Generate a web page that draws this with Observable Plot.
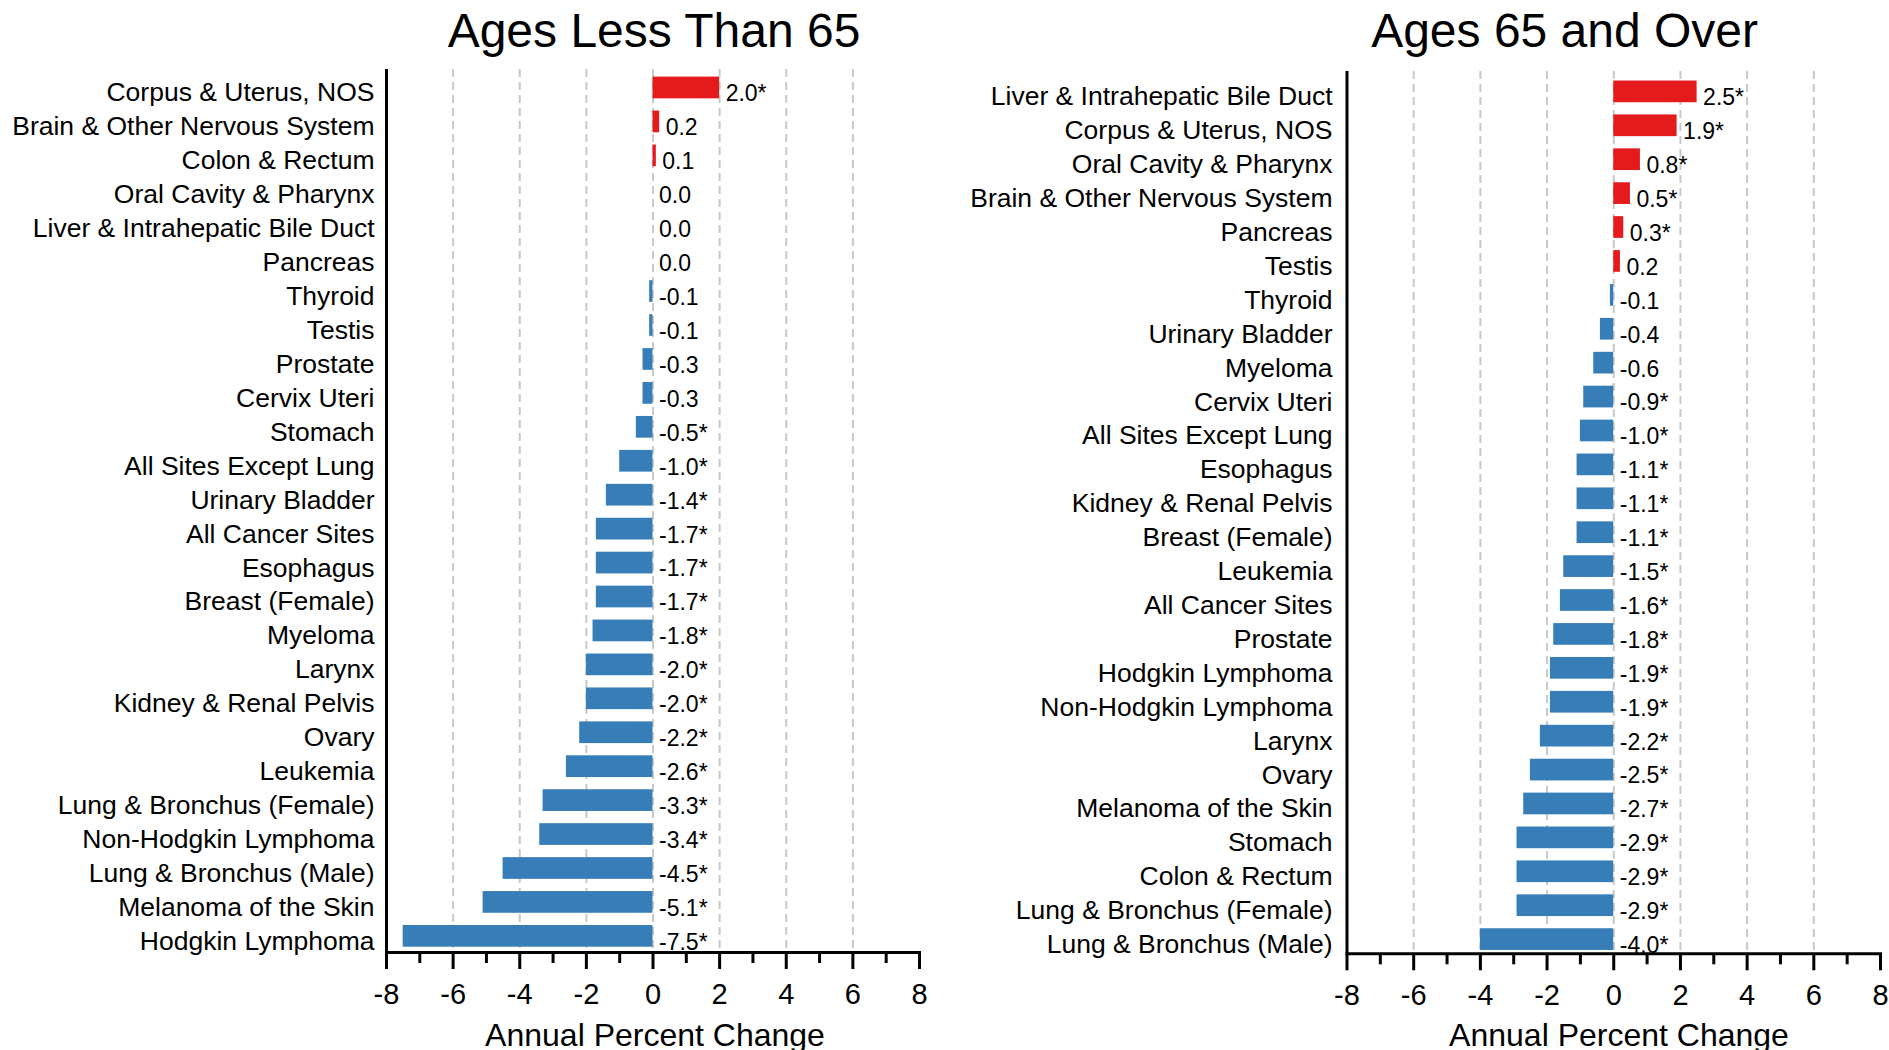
<!DOCTYPE html>
<html>
<head>
<meta charset="utf-8">
<script src="https://cdn.jsdelivr.net/npm/d3@7"></script>
<script src="https://cdn.jsdelivr.net/npm/@observablehq/plot@0.6"></script>
<style>
  html, body { margin: 0; padding: 0; background: #fff; overflow: hidden; }
  body { font-family: "Liberation Sans", Arial, Helvetica, sans-serif; color: #000; }
  #wrap { position: relative; width: 1889px; height: 1050px; }
  .panel { position: absolute; top: 0; }
  .panel svg { overflow: visible; }
  .txt { position: absolute; white-space: nowrap; line-height: 1; transform: translateX(-50%); }
  .title { font-size: 48px; top: 6.7px; }
  .axtitle { font-size: 32px; top: 1019px; }
</style>
</head>
<body>
<div id="wrap"></div>
<script>
// ---- Data: Ages Less Than 65 ----
const sitesUnder65 = [
  "Corpus & Uterus, NOS", "Brain & Other Nervous System", "Colon & Rectum",
  "Oral Cavity & Pharynx", "Liver & Intrahepatic Bile Duct", "Pancreas",
  "Thyroid", "Testis", "Prostate", "Cervix Uteri", "Stomach",
  "All Sites Except Lung", "Urinary Bladder", "All Cancer Sites", "Esophagus",
  "Breast (Female)", "Myeloma", "Larynx", "Kidney & Renal Pelvis", "Ovary",
  "Leukemia", "Lung & Bronchus (Female)", "Non-Hodgkin Lymphoma",
  "Lung & Bronchus (Male)", "Melanoma of the Skin", "Hodgkin Lymphoma"
];
const apcUnder65 = [2.0, 0.2, 0.1, 0.0, 0.0, 0.0, -0.1, -0.1, -0.3, -0.3, -0.5,
  -1.0, -1.4, -1.7, -1.7, -1.7, -1.8, -2.0, -2.0, -2.2, -2.6, -3.3, -3.4, -4.5, -5.1, -7.5];
const sigUnder65 = [true, false, false, false, false, false, false, false, false, false, true,
  true, true, true, true, true, true, true, true, true, true, true, true, true, true, true];

// ---- Data: Ages 65 and Over ----
const sites65Over = [
  "Liver & Intrahepatic Bile Duct", "Corpus & Uterus, NOS", "Oral Cavity & Pharynx",
  "Brain & Other Nervous System", "Pancreas", "Testis", "Thyroid", "Urinary Bladder",
  "Myeloma", "Cervix Uteri", "All Sites Except Lung", "Esophagus",
  "Kidney & Renal Pelvis", "Breast (Female)", "Leukemia", "All Cancer Sites",
  "Prostate", "Hodgkin Lymphoma", "Non-Hodgkin Lymphoma", "Larynx", "Ovary",
  "Melanoma of the Skin", "Stomach", "Colon & Rectum", "Lung & Bronchus (Female)",
  "Lung & Bronchus (Male)"
];
const apc65Over = [2.5, 1.9, 0.8, 0.5, 0.3, 0.2, -0.1, -0.4, -0.6, -0.9, -1.0, -1.1,
  -1.1, -1.1, -1.5, -1.6, -1.8, -1.9, -1.9, -2.2, -2.5, -2.7, -2.9, -2.9, -2.9, -4.0];
const sig65Over = [true, true, true, true, true, false, false, false, false, true, true, true,
  true, true, true, true, true, true, true, true, true, true, true, true, true, true];

// ---- Axis ticks ----
const xDomain = [-8, 8];
const xMajorTicks = [-8, -6, -4, -2, 0, 2, 4, 6, 8];
const xMinorTicks = [-7, -5, -3, -1, 1, 3, 5, 7];
const gridTicks = [-6, -4, -2, 0, 2, 4, 6];

const titles = ["Ages Less Than 65", "Ages 65 and Over"];
const axisTitle = "Annual Percent Change";

const RED = "#E41A1C";
const BLUE = "#377EB8";
const FONT = "'Liberation Sans', Arial, Helvetica, sans-serif";

function makePanel(sites, apc, sig, opts) {
  const data = sites.map((s, i) => ({
    site: s,
    apc: apc[i],
    label: apc[i].toFixed(1) + (sig[i] ? "*" : "")
  }));
  return Plot.plot({
    width: opts.width,
    height: 1050,
    marginLeft: opts.marginLeft,
    marginRight: opts.marginRight,
    marginTop: opts.marginTop,
    marginBottom: opts.marginBottom,
    style: { fontFamily: FONT, background: "transparent", color: "#000" },
    x: { domain: xDomain, label: null },
    y: { domain: sites, paddingInner: 0.36, paddingOuter: 0.19, align: opts.align, round: false, label: null },
    marks: [
      Plot.ruleX(gridTicks, { stroke: "#c8c8c8", strokeWidth: 2, strokeDasharray: "8,5" }),
      Plot.barX(data.filter(d => d.apc > 0), { x1: 0, x2: "apc", y: "site", fill: RED }),
      Plot.barX(data.filter(d => d.apc < 0), { x1: 0, x2: "apc", y: "site", fill: BLUE }),
      Plot.text(data, {
        x: d => Math.max(0, d.apc), y: "site", text: "label",
        textAnchor: "start", dx: 6, dy: 6, fontSize: 23, fill: "#000"
      }),
      Plot.axisY({ tickSize: 0, tickPadding: opts.labelPad, fontSize: 26.5, dy: 5, label: null }),
      Plot.axisX({
        ticks: xMajorTicks, tickSize: 17, tickPadding: 14, strokeWidth: 3,
        fontSize: 29, tickFormat: d => String(d), label: null
      }),
      Plot.axisX({
        ticks: xMinorTicks, tickSize: 11, strokeWidth: 3,
        tickFormat: () => "", label: null
      }),
      Plot.ruleX([xDomain[0]], { stroke: "#000", strokeWidth: 3 }),
      Plot.frame({ anchor: "bottom", stroke: "#000", strokeWidth: 3 })
    ]
  });
}

const wrap = document.getElementById("wrap");

function addPanel(node, left) {
  const d = document.createElement("div");
  d.className = "panel";
  d.style.left = left + "px";
  d.appendChild(node);
  wrap.appendChild(d);
}
function addText(cls, text, cx) {
  const d = document.createElement("div");
  d.className = "txt " + cls;
  d.style.left = cx + "px";
  d.textContent = text;
  wrap.appendChild(d);
}

addPanel(makePanel(sitesUnder65, apcUnder65, sigUnder65, {
  width: 945, marginLeft: 386, marginRight: 26, marginTop: 69, marginBottom: 98, align: 0.59, labelPad: 12
}), 0);
addPanel(makePanel(sites65Over, apc65Over, sig65Over, {
  width: 944, marginLeft: 401.5, marginRight: 9, marginTop: 71, marginBottom: 96.7, align: 0.74, labelPad: 14.5
}), 945);

addText("title", titles[0], 654);
addText("title", titles[1], 1564.6);
addText("axtitle", axisTitle, 655);
addText("axtitle", axisTitle, 1619);
</script>
</body>
</html>
